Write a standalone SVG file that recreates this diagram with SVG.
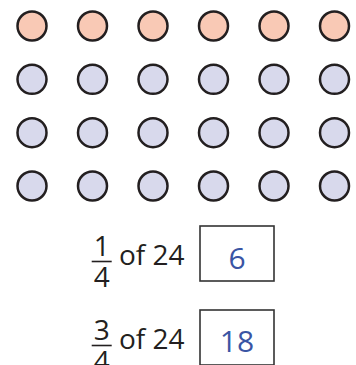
<svg xmlns="http://www.w3.org/2000/svg" width="356" height="365" viewBox="0 0 356 365">
<style>
.c{stroke:#231F20;stroke-width:2.5}
.o{fill:#F9C9B5}
.b{fill:#D8D9EC}
.t{font-family:"Open Sans","Noto Sans",sans-serif;fill:#231F20}
.f{font-size:28px;text-anchor:middle}
.m{font-size:28px}
.a{font-family:"Open Sans","Noto Sans",sans-serif;font-size:30px;fill:#3A55A4;text-anchor:middle}
.bx{fill:#fff;stroke:#333;stroke-width:1.6}
.bar{stroke:#231F20;stroke-width:1.6}
</style>
<rect width="356" height="365" fill="#fff"/>
<g id="row1">
<circle class="c o" cx="32" cy="26" r="14.5"/><circle class="c o" cx="92.5" cy="26" r="14.5"/><circle class="c o" cx="153" cy="26" r="14.5"/><circle class="c o" cx="213.5" cy="26" r="14.5"/><circle class="c o" cx="274" cy="26" r="14.5"/><circle class="c o" cx="334.5" cy="26" r="14.5"/>
</g>
<g id="row2">
<circle class="c b" cx="32" cy="79.3" r="14.5"/><circle class="c b" cx="92.5" cy="79.3" r="14.5"/><circle class="c b" cx="153" cy="79.3" r="14.5"/><circle class="c b" cx="213.5" cy="79.3" r="14.5"/><circle class="c b" cx="274" cy="79.3" r="14.5"/><circle class="c b" cx="334.5" cy="79.3" r="14.5"/>
</g>
<g id="row3">
<circle class="c b" cx="32" cy="132.7" r="14.5"/><circle class="c b" cx="92.5" cy="132.7" r="14.5"/><circle class="c b" cx="153" cy="132.7" r="14.5"/><circle class="c b" cx="213.5" cy="132.7" r="14.5"/><circle class="c b" cx="274" cy="132.7" r="14.5"/><circle class="c b" cx="334.5" cy="132.7" r="14.5"/>
</g>
<g id="row4">
<circle class="c b" cx="32" cy="186" r="14.5"/><circle class="c b" cx="92.5" cy="186" r="14.5"/><circle class="c b" cx="153" cy="186" r="14.5"/><circle class="c b" cx="213.5" cy="186" r="14.5"/><circle class="c b" cx="274" cy="186" r="14.5"/><circle class="c b" cx="334.5" cy="186" r="14.5"/>
</g>
<g id="q1">
<text class="t f" x="101.7" y="256">1</text>
<line class="bar" x1="91.7" y1="261.5" x2="111.7" y2="261.5"/>
<text class="t f" x="101.7" y="287">4</text>
<text class="t m" x="119" y="265">of 24</text>
<rect class="bx" x="200" y="226" width="74" height="55"/>
<text class="a" x="237" y="269">6</text>
</g>
<g id="q2">
<text class="t f" x="101.7" y="340">3</text>
<line class="bar" x1="91.7" y1="345.5" x2="111.7" y2="345.5"/>
<text class="t f" x="101.7" y="371">4</text>
<text class="t m" x="119" y="349">of 24</text>
<rect class="bx" x="200" y="310" width="74" height="55"/>
<text class="a" x="237" y="352">18</text>
</g>
</svg>
